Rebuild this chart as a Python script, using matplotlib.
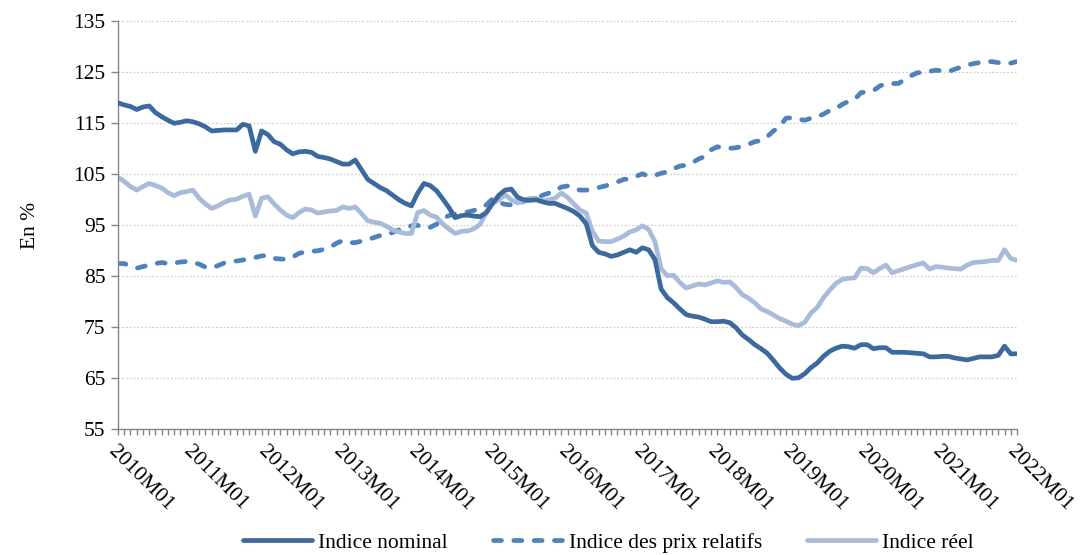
import matplotlib
matplotlib.use("Agg")
import matplotlib.pyplot as plt
from matplotlib.ticker import FixedLocator

# ---- data (monthly, 2010M01 .. 2022M01) ----
years = list(range(2010, 2023))
tick_labels = [f"{y}M01" for y in years]
y_ticks = [55, 65, 75, 85, 95, 105, 115, 125, 135]

indice_nominal = [
    119.0, 118.6, 118.3, 117.7, 118.2, 118.4, 117.1, 116.3, 115.6, 115.0, 115.2, 115.5,
    115.3, 114.9, 114.3, 113.5, 113.6, 113.7, 113.7, 113.7, 114.8, 114.5, 109.5, 113.5,
    112.8, 111.4, 110.9, 109.8, 109.0, 109.4, 109.5, 109.3, 108.5, 108.3, 108.0, 107.5,
    107.0, 107.0, 107.8, 105.9, 104.0, 103.2, 102.4, 101.8, 100.9, 100.0, 99.3, 98.8,
    101.3, 103.2, 102.8, 101.8, 100.2, 98.5, 96.5, 96.9, 97.0, 96.8, 96.7, 97.5,
    99.3, 100.9, 101.9, 102.1, 100.5, 100.0, 99.9, 100.0, 99.6, 99.3, 99.3, 98.8,
    98.3, 97.7, 96.8, 95.3, 91.0, 89.7, 89.4, 88.9, 89.2, 89.7, 90.2, 89.7,
    90.6, 90.2, 88.3, 82.5, 80.8, 79.8, 78.6, 77.5, 77.2, 77.0, 76.6, 76.1,
    76.1, 76.2, 75.9, 74.9, 73.5, 72.6, 71.6, 70.8, 69.9, 68.5, 67.0, 65.8,
    65.0, 65.1, 65.9, 67.1, 68.0, 69.3, 70.3, 70.9, 71.3, 71.2, 70.9, 71.6,
    71.6, 70.8, 71.0, 71.0, 70.1, 70.1, 70.1, 70.0, 69.9, 69.8, 69.2, 69.2,
    69.3, 69.3, 69.0, 68.8, 68.6, 68.9, 69.2, 69.2, 69.2, 69.5, 71.3, 69.8,
    69.8,
]

indice_prix_relatifs = [
    87.5, 87.5, 87.0, 86.6, 86.9, 87.2, 87.5, 87.7, 87.5, 87.6, 87.8, 87.9,
    87.7, 87.4, 86.8, 86.6, 87.1, 87.6, 87.9, 88.0, 88.2, 88.4, 88.7, 89.0,
    89.1, 88.5, 88.4, 88.3, 88.8, 89.5, 89.8, 89.9, 90.0, 90.3, 90.7, 91.5,
    92.0, 91.6, 91.6, 91.9, 92.2, 92.6, 93.0, 93.1, 93.6, 94.1, 94.5, 94.9,
    95.0, 94.5, 94.6, 95.2, 96.3, 96.9, 97.2, 97.4, 97.6, 97.9, 98.4, 99.0,
    100.2, 99.5, 99.1, 99.0, 99.1, 99.7, 100.1, 100.3, 100.9, 101.3, 101.7, 102.5,
    102.7, 102.2, 101.9, 101.9, 102.1, 102.4, 102.7, 103.1, 103.5, 104.0, 104.1, 104.6,
    105.1, 104.6, 104.8, 105.2, 105.5, 106.1, 106.6, 106.8, 107.3, 108.0, 108.5, 109.8,
    110.4, 110.1, 110.1, 110.2, 110.5, 110.9, 111.4, 111.6, 112.4, 113.5, 114.4, 116.0,
    116.1, 115.8, 115.6, 116.0, 116.3, 116.8, 117.5, 117.9, 118.7, 119.3, 119.7, 121.0,
    121.2, 121.4, 122.3, 122.8, 122.8, 122.8, 123.6, 124.3, 124.9, 125.0, 125.2, 125.4,
    125.3, 125.1, 125.6, 126.0, 126.4, 126.7, 126.9, 127.1, 127.1, 126.9, 126.8, 126.8,
    127.1,
]

indice_reel = [
    104.4, 103.6, 102.6, 101.9, 102.6, 103.2, 102.8, 102.3, 101.4, 100.8, 101.4, 101.6,
    101.9, 100.3, 99.2, 98.3, 98.8, 99.5, 100.0, 100.1, 100.7, 101.1, 96.8, 100.3,
    100.6, 99.2, 98.0, 97.0, 96.5, 97.5, 98.2, 98.0, 97.4, 97.6, 97.8, 97.9,
    98.6, 98.3, 98.6, 97.3, 95.9, 95.6, 95.4, 94.8, 94.1, 93.7, 93.4, 93.4,
    97.5, 97.9, 97.0, 96.6, 95.3, 94.3, 93.4, 93.8, 93.9, 94.3, 95.2, 97.5,
    99.3, 100.0, 101.0, 100.0, 99.4, 99.8, 100.3, 100.3, 99.8, 100.0, 100.3, 101.3,
    100.5, 99.2, 98.0, 97.4, 93.8, 91.9, 91.8, 91.8, 92.3, 92.9, 93.7, 94.1,
    94.9, 94.2, 91.8, 86.5, 85.1, 85.2, 83.8, 82.7, 83.1, 83.5, 83.3, 83.7,
    84.1, 83.8, 83.9, 82.8, 81.4, 80.7, 79.8, 78.6, 78.1, 77.4, 76.7, 76.2,
    75.6, 75.3, 76.0, 77.8, 78.9, 80.8, 82.3, 83.6, 84.4, 84.6, 84.7, 86.6,
    86.5, 85.7, 86.5, 87.2, 85.7, 86.1, 86.5, 86.9, 87.3, 87.6, 86.4, 86.9,
    86.8, 86.6, 86.5, 86.4, 87.2, 87.7, 87.8, 87.9, 88.1, 88.1, 90.2, 88.5,
    88.1,
]

series_names = ["Indice nominal", "Indice des prix relatifs", "Indice réel"]

# ---- styling ----
plt.rcParams["font.family"] = ["Liberation Serif", "DejaVu Serif"]
c_nom = "#3C6A9E"
c_rel = "#4F81BD"
c_reel = "#A9BBDA"
fs = 15.5

fig = plt.figure(figsize=(10.81, 5.55), dpi=100)
ax = fig.add_axes([118 / 1081, 1 - 429.3 / 555, (1017 - 118) / 1081, (429.3 - 21.3) / 555])

x = list(range(len(indice_nominal)))
ax.plot(x, indice_nominal, color=c_nom, lw=3.4, solid_capstyle="round",
        solid_joinstyle="round", label=series_names[0], zorder=3)
ax.plot(x, indice_prix_relatifs, color=c_rel, lw=3.4, linestyle=(0, (1.7, 2.6)),
        dash_capstyle="round", label=series_names[1], zorder=2)
ax.plot(x, indice_reel, color=c_reel, lw=3.4, solid_capstyle="round",
        solid_joinstyle="round", label=series_names[2], zorder=2.5)

ax.set_xlim(0, len(x) - 1)
ax.set_ylim(55, 135)
ax.yaxis.set_major_locator(FixedLocator(y_ticks))
ax.grid(axis="y", color="#D0D0D0", linestyle=(0, (1.5, 1.5)), linewidth=0.9)
ax.set_axisbelow(True)

for s in ["top", "right"]:
    ax.spines[s].set_visible(False)
for s in ["left", "bottom"]:
    ax.spines[s].set_color("#868686")
    ax.spines[s].set_linewidth(1.0)

ax.xaxis.set_major_locator(FixedLocator([12 * i for i in range(len(years))]))
ax.xaxis.set_minor_locator(FixedLocator(x))
ax.set_xticklabels(tick_labels, rotation=-45, ha="left", va="top",
                   rotation_mode="anchor", fontsize=fs)
ax.tick_params(axis="x", which="both", length=4, color="#868686", width=1, pad=5)
ax.tick_params(axis="y", length=5, color="#868686", width=1, labelsize=fs, pad=4)

ax.set_ylabel("En %", fontsize=fs, labelpad=24)

leg = fig.legend(loc="center", bbox_to_anchor=(0.563, 0.022), ncol=3, frameon=False,
                 fontsize=fs, handlelength=3.2, handletextpad=0.3, columnspacing=2.1)

fig.savefig("out.png", dpi=100)
